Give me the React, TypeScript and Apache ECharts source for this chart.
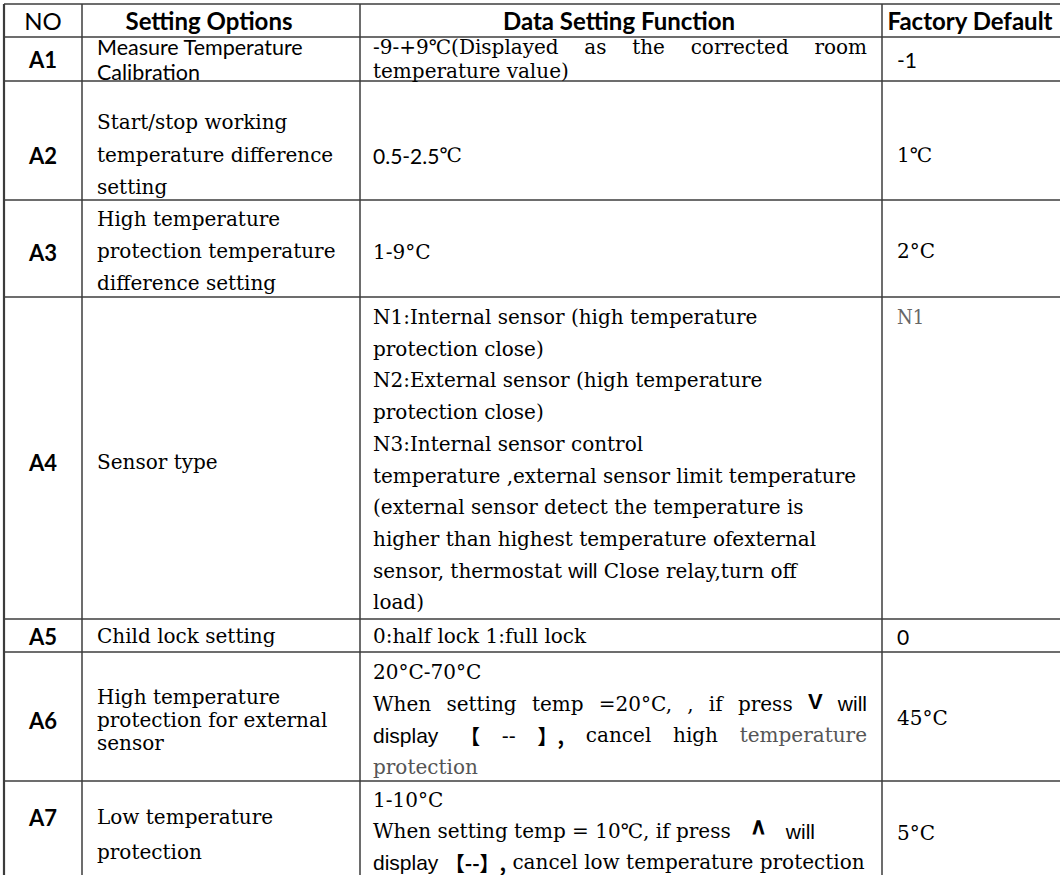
import React, { useEffect, useRef } from "react";
import * as echarts from "echarts";

// ---------------- data ----------------
const headers = ["NO", "Setting Options", "Data Setting Function", "Factory Default"];
const codes = ["A1", "A2", "A3", "A4", "A5", "A6", "A7"];
const settingOptions = [
  ["Measure Temperature", "Calibration"],
  ["Start/stop working", "temperature difference", "setting"],
  ["High temperature", "protection temperature", "difference setting"],
  ["Sensor type"],
  ["Child lock setting"],
  ["High temperature", "protection for external", "sensor"],
  ["Low temperature", "protection"],
];
const dataFunctions = [
  ["-9-+9℃(Displayed as the corrected room", "temperature value)"],
  ["0.5-2.5℃"],
  ["1-9°C"],
  [
    "N1:Internal sensor (high temperature",
    "protection close)",
    "N2:External sensor (high temperature",
    "protection close)",
    "N3:Internal sensor control",
    "temperature ,external sensor limit temperature",
    "(external sensor detect the temperature is",
    "higher than highest temperature ofexternal",
    "sensor, thermostat will Close relay,turn off",
    "load)",
  ],
  ["0:half lock 1:full lock"],
  ["20°C-70°C", "When setting temp =20°C, , if press V will", "display 【 -- 】, cancel high temperature", "protection"],
  ["1-10°C", "When setting temp = 10℃, if press   ∧   will", "display 【--】, cancel low temperature protection"],
];
const factoryDefaults = ["-1", "1℃", "2°C", "N1", "0", "45°C", "5°C"];

// ---------------- layout (positions / styles) ----------------
const W = 1060;
const H = 875;
const COL_X = [4, 82, 360, 882];
const ROW_Y = [4, 37, 81, 200, 297, 619, 652, 781];
const HEADER_Y = 20;
const CODE_Y = [59, 155, 252, 462, 636, 720, 817];
const SETTING_Y = [[47, 72], [122, 155, 187], [219, 251, 283], [462], [636], [697, 720, 743], [817, 852]];
const DATA_Y0 = [47, 155, 252, 317, 636, 672, 800];
const DATA_STEP = [23.5, 32, 32, 31.7, 32, 31.7, 31];
const FACTORY_Y = [59, 155, 251, 317, 636, 718, 833];
const SETTING_X = 97;
const DATA_X = 373;
const FACTORY_X = 897;
const JUSTIFY_RIGHT = 867;
const JUSTIFIED: Record<string, boolean> = { "0:0": true, "5:1": true, "5:2": true };
const GRAY_TOKENS: Record<string, number[]> = { "5:2": [6], "5:3": [0] };
const SETTING_STYLE = ["t", "s", "s", "s", "s", "s", "s"];
const DATA_STYLE = ["s", "m", "s", "s", "s", "s", "s"];
const FACTORY_STYLE = ["m", "s", "s", "n", "m", "s", "s"];

const SERIF = '"DejaVu Serif", serif';
const SANS = 'Lato, "Open Sans", sans-serif';
const ARIAL = '"Liberation Sans", Arial, sans-serif';
const CJK = '"Noto Sans CJK SC", sans-serif';

type Sty = { family: string; size: number; weight: string; color: string; dy?: number };
const STY: Record<string, Sty> = {
  s: { family: SERIF, size: 20, weight: "normal", color: "#000" },
  g: { family: SERIF, size: 20, weight: "normal", color: "#555" },
  l: { family: SANS, size: 24, weight: "normal", color: "#000" },
  t: { family: SANS, size: 21.5, weight: "normal", color: "#000" },
  m: { family: SANS, size: 21, weight: "normal", color: "#000" },
  b: { family: SANS, size: 24, weight: "bold", color: "#000" },
  c: { family: SANS, size: 22, weight: "bold", color: "#000" },
  a: { family: ARIAL, size: 21, weight: "normal", color: "#000" },
  k: { family: CJK, size: 20, weight: "bold", color: "#000" },
  v: { family: ARIAL, size: 22, weight: "bold", color: "#000", dy: -2 },
  w: { family: ARIAL, size: 23, weight: "bold", color: "#000", dy: -5 },
  n: { family: '"DejaVu Serif Condensed", "Liberation Serif", serif', size: 20, weight: "normal", color: "#666" },
};

const fontOf = (s: Sty) => `${s.weight} ${s.size}px ${s.family}`;

let ctx: CanvasRenderingContext2D | null = null;
function measure(text: string, s: Sty) {
  if (!ctx) ctx = document.createElement("canvas").getContext("2d");
  if (!ctx) return text.length * s.size * 0.55;
  ctx.font = fontOf(s);
  return ctx.measureText(text).width;
}

function tokenStyle(tok: string, base: string) {
  if (/^(display|will)$/.test(tok)) return "a";
  if (tok === "V") return "v";
  if (tok === "∧") return "w";
  if (/[【】]/.test(tok)) return "k";
  if (tok === "--") return "a";
  return base;
}

function textEl(text: string, x: number, y: number, s: Sty, align = "left", lineHeight?: number) {
  const style: any = {
    text,
    font: fontOf(s),
    fill: s.color,
    align,
    verticalAlign: "middle",
    textAlign: align,
    textVerticalAlign: "middle",
  };
  if (lineHeight) style.lineHeight = lineHeight;
  return { type: "text", x, y: y + (s.dy || 0), style };
}

// split a sans token so that ℃ is drawn in serif
function pieces(tok: string, st: string): [string, string][] {
  if ((st === "l" || st === "m") && tok.includes("℃")) {
    const parts = tok.split("℃");
    const out: [string, string][] = [];
    parts.forEach((p, i) => {
      if (p) out.push([p, st]);
      if (i < parts.length - 1) out.push(["℃", "s"]);
    });
    return out;
  }
  return [[tok, st]];
}

function lineEls(line: string, x: number, y: number, base: string, key: string | null) {
  const tokens = line.split(" ");
  const gray = (key && GRAY_TOKENS[key]) || [];
  const styled = tokens.map((t, i) => {
    const st = gray.includes(i) ? "g" : tokenStyle(t, base);
    const ps = pieces(t, st);
    const w = ps.reduce((a, [tx, ss]) => a + measure(tx, STY[ss]), 0);
    return { ps, w, st };
  });
  const spaceW = measure(" ", STY[base]);
  let gap = spaceW;
  if (key && JUSTIFIED[key] && tokens.length > 1) {
    const total = styled.reduce((a, t) => a + t.w, 0);
    gap = (JUSTIFY_RIGHT - x - total) / (tokens.length - 1);
  }
  const els: any[] = [];
  let cx = x;
  styled.forEach((t) => {
    let px = cx;
    t.ps.forEach(([tx, ss]) => {
      if (tx) els.push(textEl(tx, px, y, STY[ss]));
      px += measure(tx, STY[ss]);
    });
    cx += t.w + gap;
  });
  return els;
}

function buildGraphics() {
  const els: any[] = [];
  const stroke = "#3c3c3c";
  ROW_Y.forEach((y) => {
    els.push({ type: "line", shape: { x1: COL_X[0], y1: y, x2: W, y2: y }, style: { stroke, lineWidth: 1.5 } });
  });
  COL_X.forEach((x, i) => {
    els.push({
      type: "line",
      shape: { x1: x, y1: ROW_Y[0], x2: x, y2: H },
      style: { stroke, lineWidth: i === 0 ? 2.2 : 1.5 },
    });
  });
  els.push(textEl(headers[0], (COL_X[0] + COL_X[1]) / 2, HEADER_Y, STY.l, "center"));
  els.push(textEl(headers[1], 209, HEADER_Y, STY.b, "center"));
  els.push(textEl(headers[2], 619, HEADER_Y, STY.b, "center"));
  els.push(textEl(headers[3], 970, HEADER_Y, STY.b, "center"));
  codes.forEach((c, r) => {
    els.push(textEl(c, (COL_X[0] + COL_X[1]) / 2, CODE_Y[r], STY.c, "center"));
    // setting options: one wrapped text block per cell
    const ys = SETTING_Y[r];
    const n = ys.length;
    const lh = n > 1 ? (ys[n - 1] - ys[0]) / (n - 1) : undefined;
    const cy = ys.reduce((a, b) => a + b, 0) / n;
    els.push(textEl(settingOptions[r].join("\n"), SETTING_X, cy, STY[SETTING_STYLE[r]], "left", lh));
    dataFunctions[r].forEach((ln, i) => {
      els.push(...lineEls(ln, DATA_X, DATA_Y0[r] + DATA_STEP[r] * i, DATA_STYLE[r], `${r}:${i}`));
    });
    els.push(...lineEls(factoryDefaults[r], FACTORY_X, FACTORY_Y[r], FACTORY_STYLE[r], null));
  });
  return els;
}

export default function App() {
  const ref = useRef<HTMLDivElement>(null);
  useEffect(() => {
    if (!ref.current) return;
    const chart = echarts.init(ref.current, undefined, { renderer: "svg" });
    chart.setOption({
      animation: false,
      backgroundColor: "#ffffff",
      graphic: { elements: buildGraphics() },
    });
    return () => chart.dispose();
  }, []);
  return <div ref={ref} style={{ position: "absolute", left: 0, top: 0, width: W, height: H, background: "#fff" }} />;
}
